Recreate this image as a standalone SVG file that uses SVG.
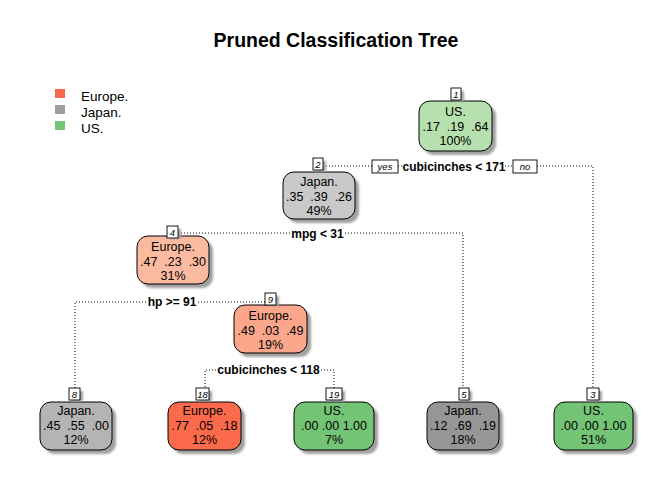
<svg xmlns="http://www.w3.org/2000/svg" width="672" height="480" viewBox="0 0 672 480">
<defs>
<filter id="sh" x="-20%" y="-20%" width="150%" height="150%"><feGaussianBlur stdDeviation="1.2"/></filter>
<style>
text{font-family:"Liberation Sans",Arial,sans-serif;fill:#000}
.t{font-size:19.5px;font-weight:bold;text-anchor:middle}
.lg{font-size:13.5px}
.n{font-size:12.5px;text-anchor:middle;white-space:pre}
.box{stroke:#000;stroke-width:1}
.shd{fill:#a0a0a0;filter:url(#sh)}
.lb{fill:#fff;stroke:#000;stroke-width:0.9}
.lt{font-size:9.5px;font-style:italic;text-anchor:middle}
.sp{font-size:12px;font-weight:bold;text-anchor:middle}
.c{fill:none;stroke:#000;stroke-width:1;stroke-dasharray:1 2}
</style>
</defs>
<rect width="672" height="480" fill="#fff"/>
<text class="t" x="336" y="47">Pruned Classification Tree</text>
<g id="legend">
<rect x="55" y="89" width="10" height="9" fill="#f76a4d"/>
<rect x="55" y="105" width="10" height="9" fill="#9e9e9e"/>
<rect x="55" y="121" width="10" height="9" fill="#74c476"/>
<text class="lg" x="81" y="101">Europe.</text>
<text class="lg" x="81" y="117">Japan.</text>
<text class="lg" x="81" y="133">US.</text>
</g>
<g id="connectors">
<polyline class="c" points="323,166 372,166"/>
<polyline class="c" points="398,166 403,166"/>
<polyline class="c" points="505,166 513,166"/>
<polyline class="c" points="537,166 593,166 593,388"/>
<polyline class="c" points="178,233 290,233"/>
<polyline class="c" points="345,233 463,233 463,388"/>
<polyline class="c" points="265,302 198,302"/>
<polyline class="c" points="146,302 75,302 75,388"/>
<polyline class="c" points="216,370 205,370 205,388"/>
<polyline class="c" points="321,370 334,370 334,388"/>
<rect class="lb" x="372" y="160" width="26" height="13"/>
<text class="lt" x="385" y="170">yes</text>
<rect class="lb" x="513" y="160" width="24" height="13"/>
<text class="lt" x="525" y="170">no</text>
<text class="sp" x="454" y="171">cubicinches &lt; 171</text>
<text class="sp" x="317.5" y="238">mpg &lt; 31</text>
<text class="sp" x="172" y="306">hp &gt;= 91</text>
<text class="sp" x="268.5" y="374">cubicinches &lt; 118</text>
</g>
<g id="node1">
<rect class="shd" x="423" y="105" width="73" height="50" rx="11"/>
<rect class="box" x="419" y="101" width="73" height="50" rx="11" fill="#b6e0ad"/>
<rect class="shd" x="454" y="91" width="10" height="10"/>
<rect class="lb" x="451" y="88" width="10" height="12"/>
<text class="lt" x="456" y="97.5">1</text>
<text class="n" x="455.5" y="116">US.</text>
<text class="n" x="455.5" y="131" xml:space="preserve">.17  .19  .64</text>
<text class="n" x="455.5" y="145">100%</text>
</g>
<g id="node2">
<rect class="shd" x="287" y="176" width="72" height="47" rx="11"/>
<rect class="box" x="283" y="172" width="72" height="47" rx="11" fill="#c9c9c9"/>
<rect class="shd" x="316" y="161" width="10" height="10"/>
<rect class="lb" x="313" y="158" width="10" height="12"/>
<text class="lt" x="318" y="167.5">2</text>
<text class="n" x="319" y="186">Japan.</text>
<text class="n" x="319" y="201" xml:space="preserve">.35  .39  .26</text>
<text class="n" x="319" y="215">49%</text>
</g>
<g id="node4">
<rect class="shd" x="141" y="240" width="72" height="48" rx="11"/>
<rect class="box" x="137" y="236" width="72" height="48" rx="11" fill="#fcbba1"/>
<rect class="shd" x="170" y="229" width="11" height="10"/>
<rect class="lb" x="167" y="226" width="11" height="12"/>
<text class="lt" x="172.5" y="235.5">4</text>
<text class="n" x="173" y="251">Europe.</text>
<text class="n" x="173" y="266" xml:space="preserve">.47  .23  .30</text>
<text class="n" x="173" y="280">31%</text>
</g>
<g id="node9">
<rect class="shd" x="238" y="309" width="73" height="48" rx="11"/>
<rect class="box" x="234" y="305" width="73" height="48" rx="11" fill="#fca68c"/>
<rect class="shd" x="268" y="296" width="11" height="10"/>
<rect class="lb" x="265" y="293" width="11" height="12"/>
<text class="lt" x="270.5" y="302.5">9</text>
<text class="n" x="270.5" y="320">Europe.</text>
<text class="n" x="270.5" y="335" xml:space="preserve">.49  .03  .49</text>
<text class="n" x="270.5" y="349">19%</text>
</g>
<g id="node8">
<rect class="shd" x="44" y="406" width="72" height="48" rx="11"/>
<rect class="box" x="40" y="402" width="72" height="48" rx="11" fill="#b4b4b4"/>
<rect class="shd" x="72" y="391" width="11" height="10"/>
<rect class="lb" x="69" y="388" width="11" height="12"/>
<text class="lt" x="74.5" y="397.5">8</text>
<text class="n" x="76" y="415">Japan.</text>
<text class="n" x="76" y="430" xml:space="preserve">.45  .55  .00</text>
<text class="n" x="76" y="444">12%</text>
</g>
<g id="node18">
<rect class="shd" x="172" y="406" width="73" height="48" rx="11"/>
<rect class="box" x="168" y="402" width="73" height="48" rx="11" fill="#fb6a4a"/>
<rect class="shd" x="199" y="391" width="13" height="10"/>
<rect class="lb" x="196" y="388" width="13" height="12"/>
<text class="lt" x="202.5" y="397.5">18</text>
<text class="n" x="204.5" y="415">Europe.</text>
<text class="n" x="204.5" y="430" xml:space="preserve">.77  .05  .18</text>
<text class="n" x="204.5" y="444">12%</text>
</g>
<g id="node19">
<rect class="shd" x="298" y="406" width="80" height="48" rx="11"/>
<rect class="box" x="294" y="402" width="80" height="48" rx="11" fill="#74c476"/>
<rect class="shd" x="329" y="391" width="16" height="10"/>
<rect class="lb" x="326" y="388" width="16" height="12"/>
<text class="lt" x="334" y="397.5">19</text>
<text class="n" x="334" y="415">US.</text>
<text class="n" x="334" y="430">.00 .00 1.00</text>
<text class="n" x="334" y="444">7%</text>
</g>
<g id="node5">
<rect class="shd" x="431" y="406" width="72" height="48" rx="11"/>
<rect class="box" x="427" y="402" width="72" height="48" rx="11" fill="#969696"/>
<rect class="shd" x="462" y="391" width="10" height="10"/>
<rect class="lb" x="459" y="388" width="10" height="12"/>
<text class="lt" x="464" y="397.5">5</text>
<text class="n" x="463" y="415">Japan.</text>
<text class="n" x="463" y="430" xml:space="preserve">.12  .69  .19</text>
<text class="n" x="463" y="444">18%</text>
</g>
<g id="node3">
<rect class="shd" x="558" y="406" width="79" height="48" rx="11"/>
<rect class="box" x="554" y="402" width="79" height="48" rx="11" fill="#74c476"/>
<rect class="shd" x="590" y="391" width="12" height="10"/>
<rect class="lb" x="587" y="388" width="12" height="12"/>
<text class="lt" x="593" y="397.5">3</text>
<text class="n" x="593.5" y="415">US.</text>
<text class="n" x="593.5" y="430">.00 .00 1.00</text>
<text class="n" x="593.5" y="444">51%</text>
</g>
</svg>
